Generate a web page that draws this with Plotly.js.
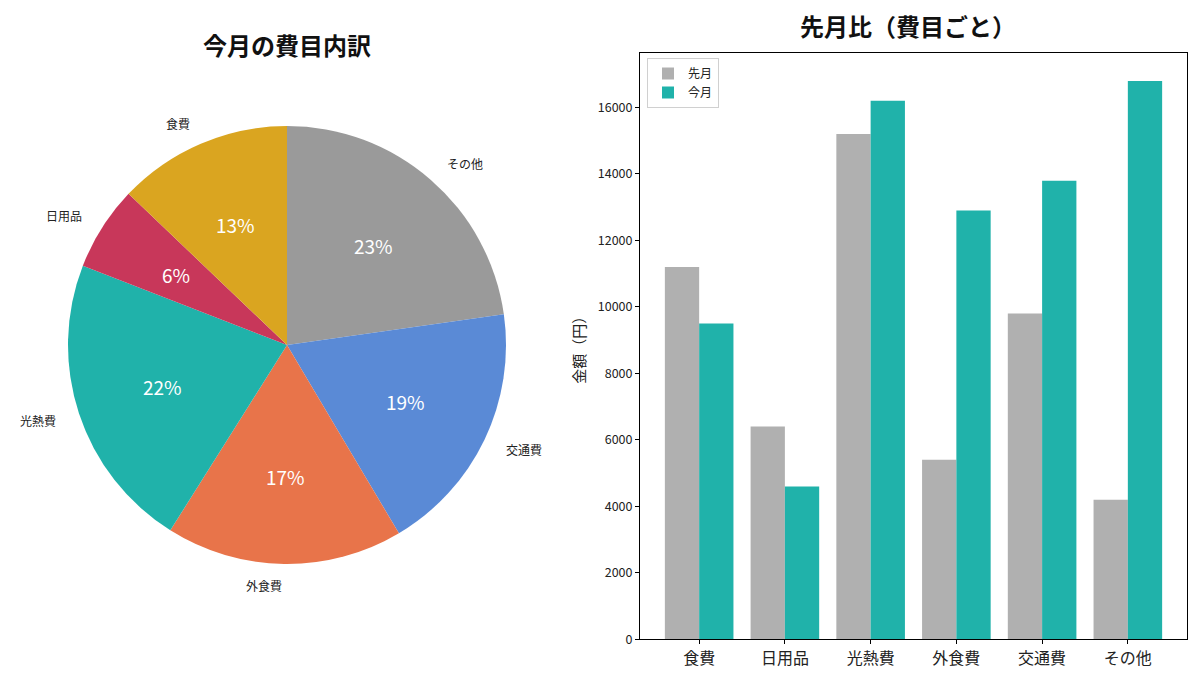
<!DOCTYPE html>
<html>
<head>
<meta charset="utf-8">
<script src="https://cdn.plot.ly/plotly-3.0.1.min.js"></script>
<style>html,body{margin:0;padding:0;background:#fff;}#chart{width:1200px;height:677px;}</style>
</head>
<body>
<div id="chart"></div>
<script>
// ---- data ----
const categories = ["食費", "日用品", "光熱費", "外食費", "交通費", "その他"];
const lastMonth = [11200, 6400, 15200, 5400, 9800, 4200];
const thisMonth = [9500, 4600, 16200, 12900, 13800, 16800];
const seriesNames = ["先月", "今月"];
const pieColors = ["#DAA520", "#C8375A", "#20B2AA", "#E8744A", "#5A8AD6", "#9A9A9A"];
const barColors = ["#B0B0B0", "#20B2AA"];
const yTicks = [0, 2000, 4000, 6000, 8000, 10000, 12000, 14000, 16000];

// ---- layout geometry (pixels) ----
const W = 1200, H = 677;
const cx = 287, cy = 345, R = 219;
const FONT = "'Noto Sans CJK JP', 'Noto Sans', sans-serif";

// matplotlib-style: first slice starts at 12 o'clock going counterclockwise
// == reversed order drawn clockwise from 12 o'clock
const pie = {
  type: "pie",
  labels: categories.slice().reverse(),
  values: thisMonth.slice().reverse(),
  sort: false,
  direction: "clockwise",
  rotation: 0,
  marker: {colors: pieColors.slice().reverse(), line: {width: 0}},
  textinfo: "none",
  hoverinfo: "none",
  showlegend: false,
  domain: {x: [(cx - R) / W, (cx + R) / W], y: [1 - (cy + R) / H, 1 - (cy - R) / H]}
};

const bars = [
  {type: "bar", name: seriesNames[0], x: categories, y: lastMonth, marker: {color: barColors[0]}, hoverinfo: "none", xaxis: "x", yaxis: "y"},
  {type: "bar", name: seriesNames[1], x: categories, y: thisMonth, marker: {color: barColors[1]}, hoverinfo: "none", xaxis: "x", yaxis: "y"}
];

// pie labels computed from data
const total = thisMonth.reduce((a, b) => a + b, 0);
const annotations = [];
let cum = 0;
thisMonth.forEach((v, i) => {
  const th = (90 + 360 * (cum + v / 2) / total) * Math.PI / 180;
  cum += v;
  const c = Math.cos(th), s = Math.sin(th);
  annotations.push({
    xref: "paper", yref: "paper",
    x: (cx + 1.1 * R * c) / W, y: 1 - (cy - 1.1 * R * s) / H,
    xanchor: c > 0 ? "left" : "right", yanchor: "middle",
    text: categories[i], showarrow: false,
    font: {family: FONT, size: 12, color: "#222"}
  });
  annotations.push({
    xref: "paper", yref: "paper",
    x: (cx + 0.6 * R * c) / W, y: 1 - (cy - 0.6 * R * s) / H,
    xanchor: "center", yanchor: "middle",
    text: Math.round(v / total * 100) + "%", showarrow: false,
    font: {family: FONT, size: 19, color: "#ffffff"}
  });
});
annotations.push({xref: "paper", yref: "paper", x: cx / W, y: 1 - 45 / H, xanchor: "center", yanchor: "middle",
  text: "<b>今月の費目内訳</b>", showarrow: false, font: {family: FONT, size: 24, color: "#111"}});
annotations.push({xref: "paper", yref: "paper", x: 908 / W, y: 1 - 25 / H, xanchor: "center", yanchor: "middle",
  text: "<b>先月比（費目ごと）</b>", showarrow: false, font: {family: FONT, size: 24, color: "#111"}});

const layout = {
  width: W, height: H,
  margin: {l: 0, r: 0, t: 0, b: 0},
  paper_bgcolor: "#fff", plot_bgcolor: "#fff",
  font: {family: FONT, color: "#222"},
  barmode: "group", bargap: 0.2, bargroupgap: 0,
  xaxis: {
    domain: [640 / W, 1187 / W],
    range: [-0.69, 5.69],
    showline: true, linecolor: "#000", linewidth: 1, mirror: true,
    ticks: "outside", ticklen: 4, tickcolor: "#000",
    showgrid: false, zeroline: false, automargin: false,
    tickfont: {family: FONT, size: 16, color: "#222"}
  },
  yaxis: {
    domain: [1 - 639.3 / H, 1 - 53 / H],
    range: [0, 17640],
    tickvals: yTicks, ticktext: yTicks.map(String),
    showline: true, linecolor: "#000", linewidth: 1, mirror: true,
    ticks: "outside", ticklen: 4, tickcolor: "#000",
    showgrid: false, zeroline: false, automargin: false,
    tickfont: {family: FONT, size: 12.5, color: "#222"},
    title: {text: "金額（円）", font: {family: FONT, size: 15, color: "#222"}, standoff: 8}
  },
  legend: {
    x: 647 / W, y: 1 - 58 / H, xanchor: "left", yanchor: "top",
    bgcolor: "rgba(255,255,255,0.8)", bordercolor: "#d0d0d0", borderwidth: 1,
    font: {family: FONT, size: 12, color: "#222"},
    tracegroupgap: 2, itemwidth: 30
  },
  annotations: annotations
};

Plotly.newPlot("chart", [pie].concat(bars), layout, {displayModeBar: false, staticPlot: true});
</script>
</body>
</html>
